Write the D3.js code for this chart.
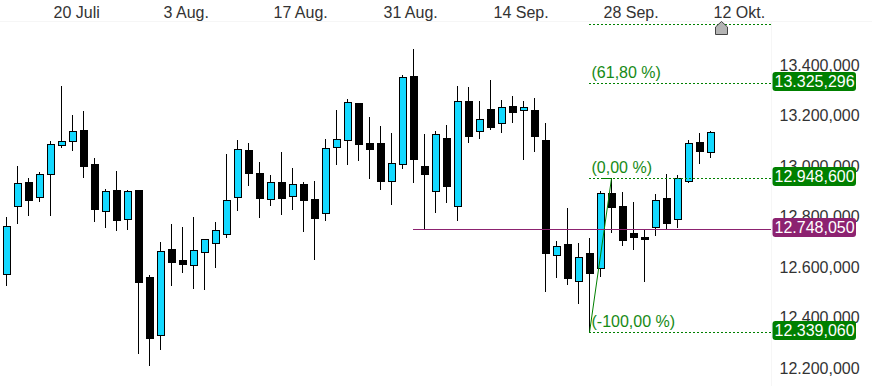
<!DOCTYPE html>
<html>
<head>
<meta charset="utf-8">
<script src="https://d3js.org/d3.v7.min.js"></script>
<style>
  html, body { margin: 0; padding: 0; background: #fff; }
  svg { display: block; }
  text { font-family: "Liberation Sans", Arial, sans-serif; font-size: 16px; }
</style>
</head>
<body>
<script>
const WIDTH = 872;
const HEIGHT = 386;
const PLOT_RIGHT = 771;

const fechas = [
  "07-10", "07-13", "07-14", "07-15", "07-16", "07-17", "07-20", "07-21", "07-22", "07-23", "07-24",
  "07-27", "07-28", "07-29", "07-30", "07-31", "08-03", "08-04", "08-05", "08-06", "08-07",
  "08-10", "08-11", "08-12", "08-13", "08-14", "08-17", "08-18", "08-19", "08-20", "08-21",
  "08-24", "08-25", "08-26", "08-27", "08-28", "08-31", "09-01", "09-02", "09-03", "09-04",
  "09-07", "09-08", "09-09", "09-10", "09-11", "09-14", "09-15", "09-16", "09-17", "09-18",
  "09-21", "09-22", "09-23", "09-24", "09-25", "09-28", "09-29", "09-30", "10-01", "10-02",
  "10-05", "10-06", "10-07", "10-08", "10-09", "10-12"
];

const aperturas = [
  12567.8, 12837.1, 12932.1, 12872.7, 12963.8, 13081, 13094.5, 13139.2, 13004.6, 12817.3,
  12901.6, 12787.9, 12901.6, 12557.1, 12328.6, 12668, 12624.4, 12605.8, 12657.3, 12692.9,
  12728.5, 12872.7, 13060, 12968.9, 12867.1, 12932.1, 12876.7, 12925.4, 12867.1, 12809.3,
  13070.7, 13100.8, 13246.1, 13087.7, 13087.7, 12938.4, 13005.7, 13353, 12996.6, 12898.8,
  13107.5, 12837.1, 13254, 13134.1, 13222.4, 13165.7, 13234.2, 13217.2, 13218.4, 13099.6,
  12643, 12687.8, 12540, 12650.9, 12591.5, 12888.5, 12838.2, 12731.3, 12715.5, 12756.3,
  12869.9, 12785.6, 12938.4, 13091.7, 13053.3
];
const maximos = [
  12794.7, 12996.6, 12947.9, 12971.7, 13095.6, 13313.4, 13198.6, 13214.4, 13028.3, 12904.4,
  12976.8, 12901.6, 12901.6, 12565, 12694.5, 12767, 12755.1, 12794.7, 12706.4, 12774.9,
  13044.2, 13099.6, 13086.5, 13011.3, 12961, 13050.9, 12987.5, 12934.5, 12937.2, 13102.4,
  13218.4, 13262, 13246.1, 13190.7, 13155, 13127.3, 13357, 13460, 13123.4, 13135.2,
  13157.8, 13313.4, 13309.5, 13252.9, 13337.2, 13258, 13273.8, 13254, 13265.9, 13166.9,
  12699.6, 12830.3, 12691.7, 12711.5, 12897.6, 12948.6, 12894.9, 12854.1, 12744.4, 12885.8,
  12965, 12961, 13099.6, 13127.3, 13135.2
];
const minimos = [
  12526.6, 12770.9, 12803.8, 12859.2, 12803.8, 13071.9, 13060, 12954.3, 12780, 12756.3,
  12744.4, 12748.3, 12256.1, 12209.8, 12273.1, 12526.6, 12578.1, 12514.7, 12510.7, 12597.9,
  12715.5, 12823.6, 12921.4, 12795.9, 12843.4, 12807.7, 12827.5, 12740.4, 12629.5, 12784,
  13005.7, 13005.7, 13020.4, 12950.3, 12906.7, 12847.3, 12989.9, 12934.5, 12747.2, 12815.7,
  12855.3, 12784, 13092.9, 13108.7, 13144.3, 13132.5, 13170.9, 13024.4, 13057.2, 12501.6,
  12558.3, 12530.5, 12455.3, 12339.06, 12562.2, 12736.5, 12685, 12669.1, 12542.4, 12724.6,
  12752.3, 12756.3, 12934.5, 13009.7, 13033.5
];
const cierres = [
  12757.9, 12928.1, 12863.2, 12963.8, 13082.6, 13094.5, 13134.1, 12997.8, 12827.5, 12896.5,
  12784, 12896.5, 12538.5, 12316.7, 12658.9, 12616.5, 12609.7, 12662.8, 12706.4, 12742,
  12860.8, 13062.8, 12970.1, 12871.1, 12932.1, 12871.1, 12924.2, 12863.2, 12791.9, 13066.7,
  13102.4, 13248.9, 13084.9, 13065.1, 12938.4, 13007.3, 13347.9, 13025.5, 12966.1, 13122.2,
  12918.6, 13252.9, 13116.6, 13181.6, 13151.1, 13229.1, 13211.7, 13229.1, 13116.6, 12652.1,
  12678.7, 12553.1, 12635.1, 12574.1, 12888.5, 12835.5, 12704.8, 12716.7, 12708.7, 12863.2,
  12772.1, 12947.9, 13086.5, 13057.2, 13130.1
];

const ticksFecha = ["07-20", "08-03", "08-17", "08-31", "09-14", "09-28", "10-12"];
const etiquetasFecha = ["20 Juli", "3 Aug.", "17 Aug.", "31 Aug.", "14 Sep.", "28 Sep.", "12 Okt."];
const ticksPrecio = [13400, 13200, 13000, 12800, 12600, 12400, 12200];

// Niveles de Fibonacci: el tope (100 %) no lleva etiqueta visible
const nivelesFib = [13558.14, 13325.296, 12948.6, 12339.06];
const textosFib = ["", "(61,80 %)", "(0,00 %)", "(-100,00 %)"];
const badgesFib = [false, true, true, true];
const precioActual = 12748.05;
const fechaFibInicio = "09-23";
const fechaFibPico = "09-25";
const fechaFibMedio = "09-24";
const fechaLinea = "09-01";
const fechaMarca = "10-09";

const CIAN = "#14d9ff";
const VERDE = "#008000";
const VERDE_TEXTO = "#168a16";
const PURPURA = "#8c2270";

const svg = d3
  .select("body")
  .append("svg")
  .attr("width", WIDTH)
  .attr("height", HEIGHT);

const x = d3
  .scalePoint()
  .domain(fechas)
  .range([6.5, 6.5 + 11 * (fechas.length - 1)]);

const y = d3
  .scaleLinear()
  .domain([13400, 12200])
  .range([64.64, 367.6]);

// Alinea una coordenada al centro del pixel para que las lineas salgan nitidas
const nitido = (v) => Math.floor(v) + 0.5;

const formato = d3.formatLocale({
  decimal: ",",
  thousands: ".",
  grouping: [3],
  currency: ["", ""]
}).format(",.3f");

// Separadores claros del marco
svg.append("line")
  .attr("x1", 0).attr("x2", WIDTH)
  .attr("y1", 21.5).attr("y2", 21.5)
  .attr("stroke", "#f6f6f6");
svg.append("line")
  .attr("x1", PLOT_RIGHT + 0.5).attr("x2", PLOT_RIGHT + 0.5)
  .attr("y1", 21).attr("y2", HEIGHT)
  .attr("stroke", "#f6f6f6")
  .attr("stroke-width", 1);

// Eje de fechas
const ejeX = svg.append("g")
  .attr("transform", "translate(0,22)")
  .call(d3.axisTop(x)
    .tickValues(ticksFecha)
    .tickSize(0)
    .tickPadding(0)
    .tickFormat((d) => etiquetasFecha[ticksFecha.indexOf(d)]));
ejeX.select(".domain").remove();
ejeX.selectAll("text")
  .attr("text-anchor", "start")
  .attr("dx", -19.5)
  .attr("y", 0)
  .attr("dy", -4)
  .attr("fill", "#333")
  .style("font-size", "16px");

// Eje de precios
const ejeY = svg.append("g")
  .attr("transform", "translate(779.5,0)")
  .call(d3.axisRight(y)
    .tickValues(ticksPrecio)
    .tickSize(0)
    .tickPadding(0)
    .tickFormat(formato));
ejeY.select(".domain").remove();
ejeY.selectAll("text")
  .attr("dy", "0.36em")
  .attr("fill", "#333")
  .style("font-size", "16px");

// Velas
const velas = svg.append("g")
  .selectAll("g")
  .data(fechas.slice(0, aperturas.length))
  .join("g");

velas.append("line")
  .attr("x1", (d) => x(d))
  .attr("x2", (d) => x(d))
  .attr("y1", (d, i) => Math.floor(y(maximos[i])))
  .attr("y2", (d, i) => Math.floor(y(minimos[i])) + 1)
  .attr("stroke", "#000");

velas.append("rect")
  .attr("x", (d) => x(d) - 3)
  .attr("width", 7)
  .attr("y", (d, i) => nitido(y(Math.max(aperturas[i], cierres[i]))))
  .attr("height", (d, i) =>
    Math.max(1, nitido(y(Math.min(aperturas[i], cierres[i]))) - nitido(y(Math.max(aperturas[i], cierres[i])))))
  .attr("fill", (d, i) => (cierres[i] > aperturas[i] ? CIAN : "#000"))
  .attr("stroke", "#000");

// Lineas de Fibonacci
svg.append("g")
  .selectAll("line")
  .data(nivelesFib)
  .join("line")
  .attr("x1", x(fechaFibInicio) - 0.5)
  .attr("x2", PLOT_RIGHT)
  .attr("y1", (d) => nitido(y(d)))
  .attr("y2", (d) => nitido(y(d)))
  .attr("stroke", VERDE)
  .attr("stroke-dasharray", "2 2");

svg.append("path")
  .attr("d", d3.line()([
    [x(fechaFibInicio), nitido(y(nivelesFib[3]))],
    [x(fechaFibPico), nitido(y(nivelesFib[2]))],
    [x(fechaFibMedio) + 1, nitido(y(nivelesFib[2]))]
  ]))
  .attr("fill", "none")
  .attr("stroke", VERDE);

svg.append("g")
  .selectAll("text")
  .data(nivelesFib)
  .join("text")
  .attr("x", x(fechaFibInicio) + 2)
  .attr("y", (d) => nitido(y(d)) - 6)
  .attr("fill", VERDE_TEXTO)
  .text((d, i) => textosFib[i]);

// Linea del precio actual
svg.append("line")
  .attr("x1", x(fechaLinea) - 0.5)
  .attr("x2", PLOT_RIGHT)
  .attr("y1", nitido(y(precioActual)))
  .attr("y2", nitido(y(precioActual)))
  .attr("stroke", PURPURA);

// Marca gris sobre la fecha
const xMarca = x(fechaMarca);
svg.append("path")
  .attr("d", `M${xMarca - 6},27 L${xMarca},21.5 L${xMarca + 6},27 V34.5 H${xMarca - 6} Z`)
  .attr("fill", "#b4b4b4")
  .attr("stroke", "#444");

// Etiquetas con fondo en el eje de precios
const badges = nivelesFib
  .filter((d, i) => badgesFib[i])
  .map((d) => ({ valor: d, color: VERDE }))
  .concat([{ valor: precioActual, color: PURPURA }]);

const grupos = svg.append("g")
  .selectAll("g")
  .data(badges)
  .join("g");

grupos.append("rect")
  .attr("x", 772.5)
  .attr("y", (d) => nitido(y(d.valor)) - 11.5)
  .attr("width", 83.5)
  .attr("height", 19)
  .attr("rx", 3)
  .attr("fill", (d) => d.color);

grupos.append("text")
  .attr("x", 774.5)
  .attr("y", (d) => nitido(y(d.valor)) + 3.5)
  .attr("fill", "#fff")
  .text((d) => formato(d.valor));
</script>
</body>
</html>
